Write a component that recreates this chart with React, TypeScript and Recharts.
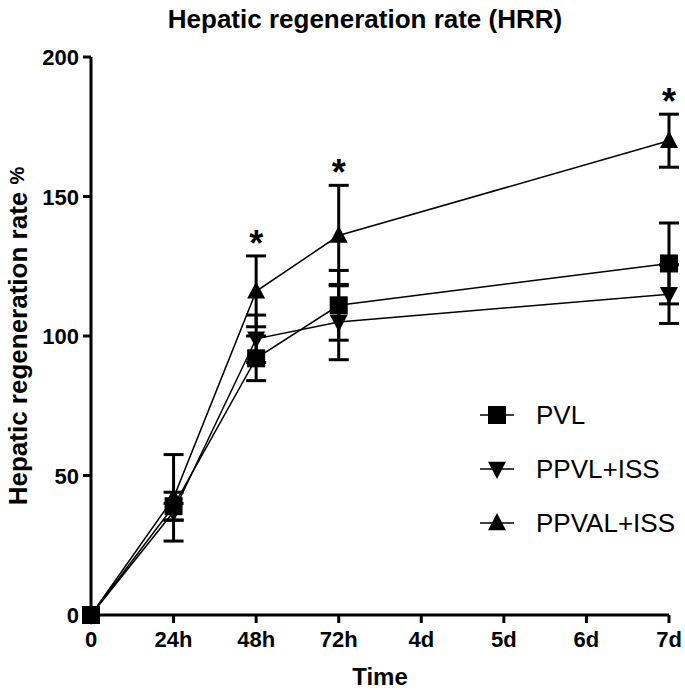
import React from "react";
import { LineChart, Line, XAxis, YAxis, ErrorBar, LabelList, Label } from "recharts";

// time points on the x axis
const timePoints = ["0", "24h", "48h", "72h", "4d", "5d", "6d", "7d"];
const yTicks = [0, 50, 100, 150, 200];

// mean values and SD per group (no samples at 4d, 5d, 6d)
const pvl = [0, 39, 92, 111, null, null, null, 126];
const pvlErr = [0, 5, 8, 12.5, null, null, null, 14.5];
const ppvl = [0, 37, 99, 105, null, null, null, 115];
const ppvlErr = [0, 3, 8.5, 13.5, null, null, null, 10.5];
const ppval = [0, 42, 116, 136, null, null, null, 170];
const ppvalErr = [0, 15.5, 12.7, 18, null, null, null, 9.5];
const significant = [false, false, true, true, false, false, false, true];

const seriesNames = ["PVL", "PPVL+ISS", "PPVAL+ISS"];

const data = timePoints.map((t, i) => ({
    time: t,
    pvl: pvl[i],
    pvlErr: pvlErr[i],
    ppvl: ppvl[i],
    ppvlErr: ppvlErr[i],
    ppval: ppval[i],
    ppvalErr: ppvalErr[i],
    star: significant[i] && ppval[i] != null ? (ppval[i] as number) + (ppvalErr[i] as number) : null,
}));

const FONT = "'Liberation Sans', Arial, sans-serif";

type ShapeKind = "square" | "down" | "up";

const Marker = ({ cx, cy, kind, size = 9 }: { cx: number; cy: number; kind: ShapeKind; size?: number }) => {
    if (cx == null || cy == null) return null;
    if (kind === "square") {
        return <rect x={cx - size} y={cy - size} width={size * 2} height={size * 2} fill="#000" />;
    }
    if (kind === "down") {
        return (
            <polygon
                points={`${cx - size},${cy - size * 0.8} ${cx + size},${cy - size * 0.8} ${cx},${cy + size * 1.1}`}
                fill="#000"
            />
        );
    }
    return (
        <polygon
            points={`${cx - size},${cy + size * 0.8} ${cx + size},${cy + size * 0.8} ${cx},${cy - size * 1.1}`}
            fill="#000"
        />
    );
};

const makeDot = (kind: ShapeKind) => (props: any) => {
    const { cx, cy, value, index } = props;
    if (value == null) return <g key={`e-${kind}-${index}`} />;
    return <Marker key={`${kind}-${index}`} cx={cx} cy={cy} kind={kind} />;
};

const XTick = ({ x, y, payload }: any) => (
    <text x={x} y={y} dy={22} textAnchor="middle" fontSize={22} fontWeight="bold" fill="#000" fontFamily={FONT}>
        {payload.value}
    </text>
);

const YTick = ({ x, y, payload }: any) => (
    <text x={x} y={y} dy={8} dx={-2} textAnchor="end" fontSize={22} fontWeight="bold" fill="#000" fontFamily={FONT}>
        {payload.value}
    </text>
);

const Star = (props: any) => {
    const { x, y, value } = props;
    if (value == null) return null;
    return (
        <text x={x} y={y} dy={0} textAnchor="middle" fontSize={36} fontWeight="bold" fill="#000" fontFamily={FONT}>
            *
        </text>
    );
};

const kinds: ShapeKind[] = ["square", "down", "up"];

const LegendBox = () => (
    <svg width={215} height={160} style={{ position: "absolute", left: 470, top: 395 }}>
        {seriesNames.map((name, i) => {
            const cy = 20 + i * 54;
            return (
                <g key={name}>
                    <line x1={10} x2={44} y1={cy} y2={cy} stroke="#000" strokeWidth={1.5} />
                    <Marker cx={27} cy={cy} kind={kinds[i]} />
                    <text x={66} y={cy + 9} fontSize={26} fill="#000" fontFamily={FONT}>
                        {name}
                    </text>
                </g>
            );
        })}
    </svg>
);

const App = () => {
    return (
        <div style={{ position: "absolute", left: 0, top: 0, width: 685, height: 690, background: "#fff" }}>
            <div
                style={{
                    position: "absolute",
                    left: 0,
                    top: 4,
                    width: 730,
                    textAlign: "center",
                    fontFamily: FONT,
                    fontWeight: "bold",
                    fontSize: 26,
                    color: "#000",
                }}
            >
                Hepatic regeneration rate (HRR)
            </div>
            <LineChart width={685} height={690} data={data} margin={{ top: 57, right: 16, left: 0, bottom: 0 }}>
                <XAxis
                    dataKey="time"
                    height={75}
                    tick={<XTick />}
                    tickSize={8}
                    axisLine={{ stroke: "#000", strokeWidth: 3 }}
                    tickLine={{ stroke: "#000", strokeWidth: 3 }}
                    interval={0}
                >
                    <Label
                        content={({ viewBox }: any) => (
                            <text
                                x={viewBox.x + viewBox.width / 2}
                                y={viewBox.y + 70}
                                textAnchor="middle"
                                fontSize={24}
                                fontWeight="bold"
                                fill="#000"
                                fontFamily={FONT}
                            >
                                Time
                            </text>
                        )}
                    />
                </XAxis>
                <YAxis
                    width={91}
                    domain={[0, 200]}
                    ticks={yTicks}
                    tick={<YTick />}
                    tickSize={8}
                    axisLine={{ stroke: "#000", strokeWidth: 3 }}
                    tickLine={{ stroke: "#000", strokeWidth: 3 }}
                    interval={0}
                >
                    <Label
                        content={({ viewBox }: any) => {
                            const cx = 27;
                            const cy = viewBox.y + viewBox.height / 2;
                            return (
                                <text
                                    x={cx}
                                    y={cy}
                                    transform={`rotate(-90, ${cx}, ${cy})`}
                                    textAnchor="middle"
                                    fontSize={26}
                                    fontWeight="bold"
                                    fill="#000"
                                    fontFamily={FONT}
                                >
                                    Hepatic regeneration rate{"  "}
                                    <tspan fontSize={20} dy={-3}>%</tspan>
                                </text>
                            );
                        }}
                    />
                </YAxis>
                <Line
                    dataKey="pvl"
                    name="PVL"
                    stroke="#000"
                    strokeWidth={1.5}
                    connectNulls
                    dot={makeDot("square")}
                    activeDot={false}
                    isAnimationActive={false}
                >
                    <ErrorBar dataKey="pvlErr" width={10} stroke="#000" strokeWidth={3} direction="y" />
                </Line>
                <Line
                    dataKey="ppvl"
                    name="PPVL+ISS"
                    stroke="#000"
                    strokeWidth={1.5}
                    connectNulls
                    dot={makeDot("down")}
                    activeDot={false}
                    isAnimationActive={false}
                >
                    <ErrorBar dataKey="ppvlErr" width={10} stroke="#000" strokeWidth={3} direction="y" />
                </Line>
                <Line
                    dataKey="ppval"
                    name="PPVAL+ISS"
                    stroke="#000"
                    strokeWidth={1.5}
                    connectNulls
                    dot={makeDot("up")}
                    activeDot={false}
                    isAnimationActive={false}
                >
                    <ErrorBar dataKey="ppvalErr" width={10} stroke="#000" strokeWidth={3} direction="y" />
                </Line>
                <Line dataKey="star" stroke="none" dot={false} activeDot={false} isAnimationActive={false}>
                    <LabelList dataKey="star" content={<Star />} />
                </Line>
            </LineChart>
            <LegendBox />
        </div>
    );
};

export default App;
